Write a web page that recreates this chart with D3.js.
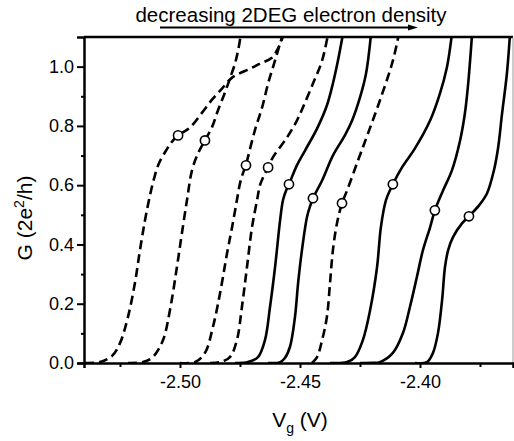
<!DOCTYPE html>
<html>
<head>
<meta charset="utf-8">
<script src="https://cdn.jsdelivr.net/npm/d3@7"></script>
<style>
  html, body { margin: 0; padding: 0; background: #fff; }
  svg { display: block; font-family: "Liberation Sans", Arial, Helvetica, sans-serif; }
</style>
</head>
<body>
<svg id="chart" width="514" height="441"></svg>
<script>
// ---- data (V in volts, G in units of 2e^2/h) ----
const curve1 = [[-2.5396,0],[-2.5333,0.003],[-2.5283,0.024],[-2.5250,0.067],[-2.5217,0.155],[-2.5188,0.269],[-2.5167,0.380],[-2.5146,0.481],[-2.5125,0.566],[-2.5108,0.623],[-2.5088,0.673],[-2.5058,0.717],[-2.5033,0.747],[-2.5008,0.768],[-2.4958,0.795],[-2.4908,0.845],[-2.4863,0.892],[-2.4825,0.926],[-2.4783,0.963],[-2.4708,0.993],[-2.4667,1.010],[-2.4617,1.030],[-2.4592,1.061],[-2.4567,1.11]];
const curve2 = [[-2.5217,0],[-2.5154,0.003],[-2.5113,0.020],[-2.5071,0.077],[-2.5042,0.178],[-2.5013,0.323],[-2.4992,0.438],[-2.4971,0.549],[-2.4950,0.650],[-2.4925,0.707],[-2.4896,0.751],[-2.4867,0.795],[-2.4842,0.852],[-2.4813,0.912],[-2.4792,0.960],[-2.4771,1.010],[-2.4758,1.054],[-2.4746,1.11]];
const curve3 = [[-2.5000,0],[-2.4938,0.003],[-2.4896,0.034],[-2.4863,0.121],[-2.4833,0.236],[-2.4804,0.370],[-2.4783,0.458],[-2.4763,0.549],[-2.4750,0.606],[-2.4738,0.640],[-2.4725,0.667],[-2.4717,0.694],[-2.4688,0.785],[-2.4658,0.862],[-2.4633,0.943],[-2.4613,0.997],[-2.4592,1.054],[-2.4571,1.11]];
const curve4 = [[-2.4875,0],[-2.4833,0.003],[-2.4792,0.020],[-2.4763,0.077],[-2.4742,0.189],[-2.4721,0.323],[-2.4700,0.458],[-2.4679,0.549],[-2.4667,0.599],[-2.4654,0.626],[-2.4633,0.660],[-2.4613,0.694],[-2.4554,0.761],[-2.4513,0.818],[-2.4488,0.862],[-2.4446,0.943],[-2.4408,1.020],[-2.4383,1.11]];
const curve5 = [[-2.4771,0],[-2.4717,0.003],[-2.4675,0.020],[-2.4646,0.077],[-2.4625,0.189],[-2.4604,0.323],[-2.4583,0.481],[-2.4571,0.549],[-2.4558,0.582],[-2.4546,0.603],[-2.4513,0.667],[-2.4479,0.717],[-2.4429,0.791],[-2.4388,0.869],[-2.4363,0.943],[-2.4342,1.020],[-2.4321,1.11]];
const curve6 = [[-2.4633,0],[-2.4583,0.003],[-2.4563,0.017],[-2.4542,0.054],[-2.4521,0.155],[-2.4508,0.269],[-2.4492,0.380],[-2.4471,0.492],[-2.4458,0.529],[-2.4446,0.556],[-2.4408,0.616],[-2.4363,0.700],[-2.4313,0.768],[-2.4283,0.818],[-2.4250,0.896],[-2.4225,0.976],[-2.4204,1.11]];
const curve7 = [[-2.4450,0],[-2.4429,0.020],[-2.4408,0.077],[-2.4388,0.155],[-2.4375,0.269],[-2.4363,0.380],[-2.4346,0.471],[-2.4325,0.539],[-2.4304,0.582],[-2.4258,0.684],[-2.4217,0.774],[-2.4167,0.886],[-2.4113,1.020],[-2.4088,1.11]];
const curve8 = [[-2.4375,0],[-2.4304,0.003],[-2.4271,0.020],[-2.4238,0.077],[-2.4208,0.178],[-2.4179,0.323],[-2.4163,0.458],[-2.4142,0.549],[-2.4113,0.603],[-2.4075,0.660],[-2.4021,0.724],[-2.3958,0.818],[-2.3917,0.909],[-2.3888,0.997],[-2.3867,1.11]];
const curve9 = [[-2.4250,0],[-2.4196,0.0005],[-2.4167,0.003],[-2.4113,0.034],[-2.4071,0.101],[-2.4042,0.189],[-2.4013,0.290],[-2.3988,0.380],[-2.3958,0.458],[-2.3938,0.515],[-2.3904,0.582],[-2.3867,0.650],[-2.3833,0.751],[-2.3813,0.842],[-2.3800,0.936],[-2.3783,1.11]];
const curve10 = [[-2.4021,0],[-2.3971,0.003],[-2.3946,0.034],[-2.3925,0.101],[-2.3908,0.212],[-2.3896,0.323],[-2.3883,0.380],[-2.3863,0.424],[-2.3825,0.471],[-2.3796,0.495],[-2.3754,0.532],[-2.3721,0.572],[-2.3692,0.650],[-2.3675,0.724],[-2.3658,0.842],[-2.3638,0.976],[-2.3625,1.11]];

const curves = [curve1, curve2, curve3, curve4, curve5, curve6, curve7, curve8, curve9, curve10];
const curveDashed = [true, true, true, true, false, false, true, false, false, false];

const markerV = [-2.5008, -2.4896, -2.4725, -2.4633, -2.4546, -2.4446, -2.4325, -2.4113, -2.3938, -2.3796];
const markerG = [0.768, 0.751, 0.667, 0.660, 0.603, 0.556, 0.539, 0.603, 0.515, 0.495];

const xDomain = [-2.54, -2.36125];
const yDomain = [0, 1.1];
const xMajorTicks = [-2.50, -2.45, -2.40];
const xMinorTicks = [-2.525, -2.475, -2.425, -2.375];
const yMajorTicks = [0.0, 0.2, 0.4, 0.6, 0.8, 1.0];
const yMinorTicks = [0.1, 0.3, 0.5, 0.7, 0.9];

const titleText = "decreasing 2DEG electron density";

// ---- layout ----
const L = 84, R = 513, T = 37, B = 363;
const svg = d3.select("#chart");
const x = d3.scaleLinear().domain(xDomain).range([L, R]);
const y = d3.scaleLinear().domain(yDomain).range([B, T]);

svg.append("defs").append("clipPath").attr("id", "plotclip")
  .append("rect").attr("x", L).attr("y", T).attr("width", R - L).attr("height", B - T);

// curves
const line = d3.line().x(d => x(d[0])).y(d => y(d[1])).curve(d3.curveCatmullRom.alpha(0.5));
const gCurves = svg.append("g").attr("clip-path", "url(#plotclip)");
curves.forEach((c, i) => {
  gCurves.append("path")
    .attr("d", line(c))
    .attr("fill", "none")
    .attr("stroke", "#000")
    .attr("stroke-width", 2.6)
    .attr("stroke-linecap", "butt")
    .attr("stroke-linejoin", "round")
    .attr("stroke-dasharray", curveDashed[i] ? "9,5" : null);
});

// markers
svg.append("g").selectAll("circle").data(markerV.map((v, i) => [v, markerG[i]]))
  .join("circle")
  .attr("cx", d => x(d[0])).attr("cy", d => y(d[1]))
  .attr("r", 4.6)
  .attr("fill", "#fff").attr("stroke", "#000").attr("stroke-width", 1.6);

// frame: top and right
svg.append("line").attr("x1", L).attr("x2", R).attr("y1", T).attr("y2", T)
  .attr("stroke", "#000").attr("stroke-width", 2.5);
svg.append("line").attr("x1", R).attr("x2", R).attr("y1", T).attr("y2", B)
  .attr("stroke", "#999").attr("stroke-width", 1);

// axes
const fontTick = 18;
const xAxis = svg.append("g").attr("transform", `translate(0,${B})`)
  .call(d3.axisBottom(x).tickValues(xMajorTicks).tickSize(5).tickPadding(7).tickFormat(d => d.toFixed(2)));
const xMinor = svg.append("g").attr("transform", `translate(0,${B})`)
  .call(d3.axisBottom(x).tickValues(xMinorTicks).tickSize(4).tickFormat(""));
const yAxis = svg.append("g").attr("transform", `translate(${L},0)`)
  .call(d3.axisLeft(y).tickValues(yMajorTicks).tickSize(7).tickPadding(3).tickFormat(d => d.toFixed(1)));
const yMinor = svg.append("g").attr("transform", `translate(${L},0)`)
  .call(d3.axisLeft(y).tickValues(yMinorTicks).tickSize(3).tickFormat(""));

[xAxis, xMinor, yAxis, yMinor].forEach(g => {
  g.select(".domain").attr("stroke", "#000").attr("stroke-width", 2.5);
  g.selectAll(".tick line").attr("stroke", "#000").attr("stroke-width", 2);
  g.selectAll(".tick text").attr("fill", "#000").attr("font-size", fontTick)
    .attr("font-family", "Liberation Sans, Arial, sans-serif");
});
xMinor.select(".domain").remove();
yMinor.select(".domain").remove();

// axis titles
const xt = svg.append("text").attr("x", 300).attr("y", 427).attr("text-anchor", "middle")
  .attr("font-size", 21).attr("fill", "#000");
xt.append("tspan").text("V");
xt.append("tspan").attr("font-size", 14).attr("dy", 6).text("g");
xt.append("tspan").attr("dy", -6).text(" (V)");

const yt = svg.append("text").attr("transform", "translate(32,218) rotate(-90)")
  .attr("text-anchor", "middle").attr("font-size", 21).attr("fill", "#000");
yt.append("tspan").text("G (2e");
yt.append("tspan").attr("font-size", 14).attr("dy", -8).text("2");
yt.append("tspan").attr("dy", 8).text("/h)");

// title + arrow
svg.append("text").attr("x", 291).attr("y", 22).attr("text-anchor", "middle")
  .attr("font-size", 20.5).attr("fill", "#000").text(titleText);
svg.append("line").attr("x1", 160).attr("x2", 410).attr("y1", 27.5).attr("y2", 27.5)
  .attr("stroke", "#000").attr("stroke-width", 2);
svg.append("path").attr("d", "M408,24.5 L418,27.5 L408,30.5 Z").attr("fill", "#000");
</script>
</body>
</html>
